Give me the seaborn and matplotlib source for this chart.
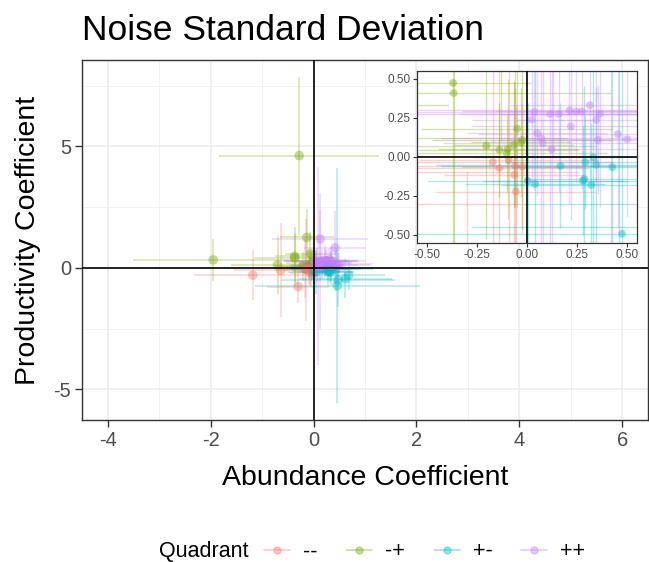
import numpy as np
import pandas as pd
import seaborn as sns
import matplotlib
matplotlib.use('Agg')
import matplotlib.pyplot as plt
from matplotlib.lines import Line2D
from matplotlib.ticker import MultipleLocator, FixedLocator, FixedFormatter

# estimated coefficients and their standard deviations, one per simulation
x = [-0.28, -1.95, -0.70, -0.13, -0.368, -0.365, -0.048, -0.202, -0.137, -0.095,
     -0.10, -0.065, -0.023, -0.028, -0.06,
     -1.18, -0.64, -0.30, -0.17, -0.137, -0.062, -0.054, -0.022, -0.09, -0.058,
     0.46, 0.68, 0.62, 0.005, 0.042, 0.169, 0.281, 0.289, 0.323, 0.334,
     0.294, 0.348, 0.428, 0.477,
     0.13, 0.42, 0.08, 0.316, 0.221, 0.038, 0.025, 0.117, 0.16, 0.214,
     0.247, 0.276, 0.366, 0.348, 0.356, 0.456, 0.502, 0.052, 0.072, 0.125]
y = [4.62, 0.33, 0.12, 1.25, 0.473, 0.409, 0.18, 0.071, 0.045, 0.049,
     0.024, 0.077, 0.109, 0.092, 0.58,
     -0.30, -0.10, -0.77, -0.034, -0.073, -0.116, -0.223, -0.062, -0.02, -0.058,
     -0.73, -0.30, -0.45, -0.154, -0.173, -0.058, -0.152, -0.143, -0.18, -0.004,
     -0.034, -0.051, -0.066, -0.493,
     1.19, 0.82, 0.088, 0.33, 0.195, 0.287, 0.238, 0.274, 0.274, 0.298,
     0.291, 0.291, 0.276, 0.238, 0.109, 0.146, 0.113, 0.152, 0.12, 0.049]
xerr = [1.56, 1.56, 0.9, 0.53, 0.39, 0.785, 0.48, 0.55, 0.4, 0.35,
        0.5, 0.3, 0.45, 0.25, 0.5,
        1.15, 0.9, 0.6, 0.6, 0.45, 0.35, 0.4, 0.3, 0.45, 0.5,
        1.6, 0.7, 0.9, 0.5, 0.35, 0.6, 0.5, 0.3, 0.45, 0.6,
        0.4, 0.8, 0.5, 1.1,
        0.93, 0.6, 0.5, 0.4, 0.5, 0.6, 0.3, 0.7, 0.5, 0.8,
        0.4, 0.6, 0.5, 0.4, 0.5, 0.7, 0.6, 0.35, 0.5, 0.45]
yerr = [3.25, 0.86, 1.2, 1.15, 1.2, 1.0, 0.5, 0.6, 0.3, 0.45,
        0.25, 0.4, 0.6, 0.35, 0.9,
        1.03, 1.93, 0.68, 1.2, 2.1, 0.6, 0.55, 0.4, 0.7, 0.5,
        4.83, 0.6, 0.8, 0.5, 0.9, 0.4, 0.35, 0.6, 0.4, 0.7,
        0.3, 0.5, 0.9, 1.1,
        1.2, 1.5, 4.07, 0.5, 0.6, 0.5, 0.4, 2.8, 0.5, 0.6,
        0.45, 0.5, 0.6, 0.4, 0.35, 0.6, 0.5, 0.4, 0.7, 0.6]
quadrants = ['--', '-+', '+-', '++']
colors = ['#F8766D', '#7CAE00', '#00BFC4', '#C77CFF']

df = pd.DataFrame({'x': x, 'y': y, 'xerr': xerr, 'yerr': yerr})
df['Quadrant'] = np.where(df.x < 0, '-', '+')
df['Quadrant'] = df['Quadrant'] + np.where(df.y < 0, '-', '+')
pal = dict(zip(quadrants, colors))

sns.set_style('white')
plt.rcParams['font.family'] = ['Liberation Sans', 'DejaVu Sans']
plt.rcParams['axes.unicode_minus'] = False
plt.rcParams['text.color'] = 'black'

fig = plt.figure(figsize=(6.49, 5.62), dpi=100)
ax = fig.add_axes([82/649, 142/562, 566/649, 360/562])


def draw(a, lw, ms):
    for q in quadrants:
        sub = df[df.Quadrant == q]
        a.errorbar(sub.x, sub.y, xerr=sub.xerr, yerr=sub.yerr, fmt='none',
                   ecolor=pal[q], alpha=0.33, elinewidth=lw, capsize=0, zorder=2)
    sns.scatterplot(data=df, x='x', y='y', hue='Quadrant', palette=pal,
                    hue_order=quadrants, alpha=0.45, s=ms, linewidth=0,
                    legend=False, ax=a, zorder=3)
    a.axhline(0, color='black', lw=1.2, zorder=5)
    a.axvline(0, color='black', lw=1.2, zorder=5)
    a.set_xlabel('')
    a.set_ylabel('')


draw(ax, 1.1, 48)
ax.set_xlim(-4.5, 6.5)
ax.set_ylim(-6.26, 8.55)
ax.xaxis.set_major_locator(FixedLocator([-4, -2, 0, 2, 4, 6]))
ax.xaxis.set_major_formatter(FixedFormatter(['-4', '-2', '0', '2', '4', '6']))
ax.xaxis.set_minor_locator(MultipleLocator(1))
ax.yaxis.set_major_locator(FixedLocator([-5, 0, 5]))
ax.yaxis.set_major_formatter(FixedFormatter(['-5', '0', '5']))
ax.yaxis.set_minor_locator(FixedLocator([-2.5, 2.5, 7.5]))
ax.grid(True, which='major', color='#EBEBEB', lw=1.1, zorder=0)
ax.grid(True, which='minor', color='#F0F0F0', lw=0.6, zorder=0)
ax.set_axisbelow(True)
ax.tick_params(which='major', length=5, width=1, color='#333333',
               labelcolor='#4D4D4D', labelsize=14.5, pad=3,
               bottom=True, left=True)
ax.tick_params(which='minor', length=0)
for sp in ax.spines.values():
    sp.set_color('#333333')
    sp.set_linewidth(1)

# zoomed inset
axin = fig.add_axes([416.7/649, 319.3/562, 220/649, 171.7/562])
draw(axin, 1.0, 32)
axin.set_xlim(-0.55, 0.55)
axin.set_ylim(-0.55, 0.55)
ticks = [-0.5, -0.25, 0, 0.25, 0.5]
labs = ['-0.50', '-0.25', '0.00', '0.25', '0.50']
axin.xaxis.set_major_locator(FixedLocator(ticks))
axin.xaxis.set_major_formatter(FixedFormatter(labs))
axin.yaxis.set_major_locator(FixedLocator(ticks))
axin.yaxis.set_major_formatter(FixedFormatter(labs))
axin.grid(False)
axin.tick_params(length=3, width=0.8, color='#333333', labelcolor='#4D4D4D',
                 labelsize=8.5, pad=1.5, bottom=True, left=True)
for sp in axin.spines.values():
    sp.set_color('#333333')
    sp.set_linewidth(0.9)

fig.text(82/649, 1 - 40/562, 'Noise Standard Deviation', fontsize=25.5,
         ha='left', va='baseline', color='black')
fig.text(365/649, 1 - 485/562, 'Abundance Coefficient', fontsize=20.5,
         ha='center', va='baseline', color='black')
fig.text(28/649, 1 - 240/562, 'Productivity Coefficient', fontsize=20.5,
         ha='center', va='center', rotation=90, color='black')

fig.text(159/649, 1 - 551.7/562, 'Quadrant', fontsize=15.5,
         ha='left', va='center', color='black')
handles = [Line2D([0], [0], color=c, marker='o', markersize=5, lw=1.2,
                  alpha=0.4) for c in colors]
leg = fig.legend(handles, quadrants, loc='center left',
                 bbox_to_anchor=(264/649, 1 - 551.7/562), ncol=4, frameon=False,
                 fontsize=15.5, handlelength=1.2, handletextpad=0.6,
                 columnspacing=1.35, borderpad=0, borderaxespad=0)
for t in leg.get_texts():
    t.set_color('black')

fig.savefig('out.png', dpi=100)
